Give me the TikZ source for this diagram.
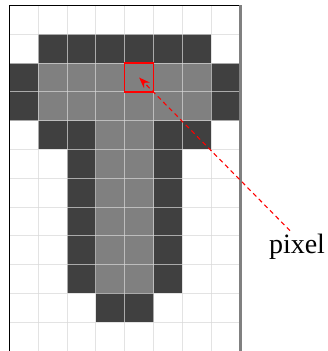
\documentclass[tikz,border=0pt]{standalone}
\usepackage{fontspec}
\setmainfont{Liberation Serif}
\usetikzlibrary{arrows.meta}
\definecolor{darkpx}{HTML}{404040}
\definecolor{graypx}{HTML}{808080}
\definecolor{gridc}{HTML}{D8D8D8}
\tikzset{
  darkcell/.style={fill=darkpx},
  graycell/.style={fill=graypx},
  gridline/.style={draw=gridc, line width=1.1pt, opacity=0.7},
  redbox/.style={draw=red, line width=1.3pt, line cap=rect, opacity=1},
  pointer/.style={red, dashed, dash pattern=on 4.5pt off 3.5pt, line width=1.1pt, -{Stealth[length=11pt,width=8pt]}},
  lbl/.style={font=\fontsize{28}{30}\selectfont, inner sep=0pt}
}
\begin{document}
\begin{tikzpicture}[x=1pt,y=1pt]
\useasboundingbox (0,0) rectangle (327,351);
\fill[white] (0,0) rectangle (327,351);
\begin{scope}[shift={(9.5,345.5)}, x=28.8pt, y=-28.8pt]
  % dark cells
  \foreach \c/\r in {1/1,2/1,3/1,4/1,5/1,6/1,
                     0/2,7/2,0/3,7/3,
                     1/4,2/4,5/4,6/4,
                     2/5,5/5,2/6,5/6,2/7,5/7,2/8,5/8,2/9,5/9,
                     3/10,4/10}
    \fill[darkcell] (\c,\r) rectangle ++(1,1);
  % gray cells
  \foreach \c/\r in {1/2,2/2,3/2,4/2,5/2,6/2,
                     1/3,2/3,3/3,4/3,5/3,6/3,
                     3/4,4/4,3/5,4/5,3/6,4/6,3/7,4/7,3/8,4/8,3/9,4/9}
    \fill[graycell] (\c,\r) rectangle ++(1,1);
  % grid
  \foreach \c in {1,...,7} \draw[gridline] (\c,0) -- (\c,12);
  \foreach \r in {1,...,11} \draw[gridline] (0,\r) -- (8,\r);
  % frame
  \draw[black, line width=1pt] (0,12.2) -- (0,0) -- (8,0);
  \draw[graypx, line width=2.5pt] (8.02,0) -- (8.02,12.2);
  % highlighted pixel
  \draw[redbox] (4,2) -- (5,2);
  \draw[redbox] (5,2) -- (5,3);
  \draw[redbox] (5,3) -- (4,3);
  \draw[redbox] (4,3) -- (4,2);
  \coordinate (px) at (4.5,2.5);
\end{scope}
\node[lbl, anchor=base] (pixel) at (297,97.7) {pixel};
\coordinate (pstart) at ([xshift=-7pt,yshift=3pt]pixel.north);
\draw[pointer] (pstart) -- (px);
\end{tikzpicture}
\end{document}
